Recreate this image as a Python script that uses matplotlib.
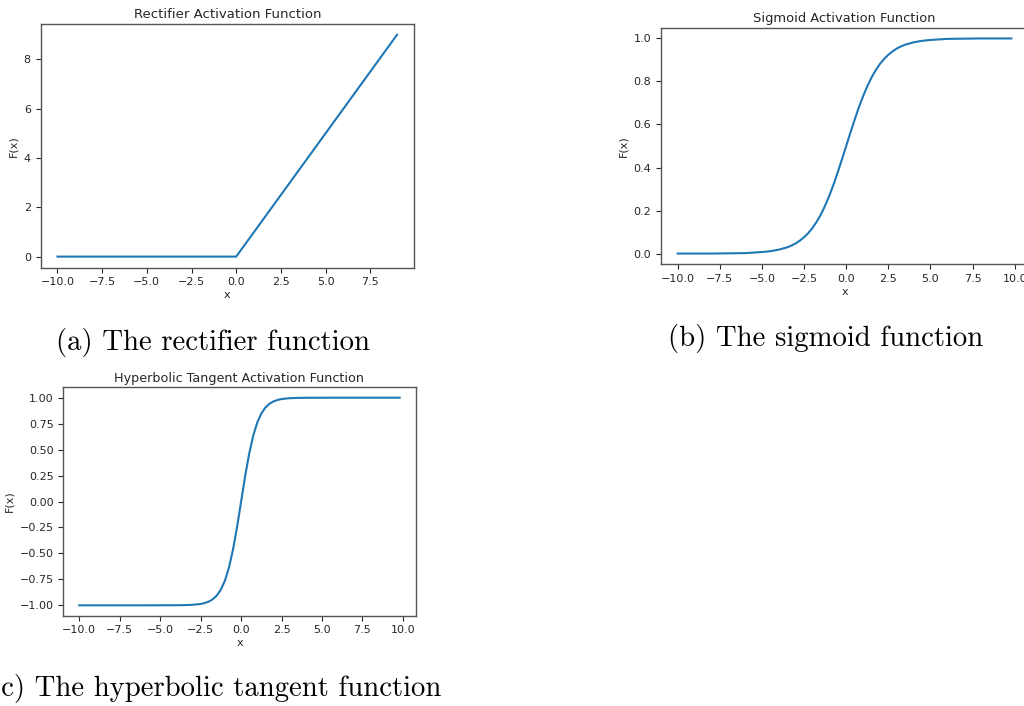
import matplotlib
matplotlib.use("Agg")
import matplotlib.pyplot as plt

# rectifier samples
relu_x = [-10, -9, -8, -7, -6, -5, -4, -3, -2, -1, 0, 1, 2, 3, 4, 5, 6, 7, 8, 9]
relu_y = [0, 0, 0, 0, 0, 0, 0, 0, 0, 0, 0, 1, 2, 3, 4, 5, 6, 7, 8, 9]

# sigmoid samples
sig_x = [-10, -8, -7, -6, -5, -4.5, -4, -3.5, -3.25, -3, -2.75, -2.5, -2.25, -2,
         -1.75, -1.5, -1.25, -1, -0.75, -0.5, -0.25, 0, 0.25, 0.5, 0.75, 1, 1.25,
         1.5, 1.75, 2, 2.25, 2.5, 2.75, 3, 3.25, 3.5, 4, 4.5, 5, 6, 7, 8, 9.8]
sig_y = [0.000, 0.000, 0.001, 0.002, 0.007, 0.011, 0.018, 0.029, 0.037, 0.047,
         0.060, 0.076, 0.095, 0.119, 0.148, 0.182, 0.223, 0.269, 0.321, 0.378,
         0.438, 0.500, 0.562, 0.622, 0.679, 0.731, 0.777, 0.818, 0.852, 0.881,
         0.905, 0.924, 0.940, 0.953, 0.963, 0.971, 0.982, 0.989, 0.993, 0.998,
         0.999, 1.000, 1.000]

# tanh samples
tanh_x = [-10, -6, -4, -3.5, -3, -2.5, -2.25, -2, -1.75, -1.5, -1.25, -1, -0.75,
          -0.5, -0.25, 0, 0.25, 0.5, 0.75, 1, 1.25, 1.5, 1.75, 2, 2.25, 2.5, 3,
          3.5, 4, 6, 9.8]
tanh_y = [-1.000, -1.000, -0.999, -0.998, -0.995, -0.987, -0.978, -0.964, -0.941,
          -0.905, -0.848, -0.762, -0.635, -0.462, -0.245, 0.000, 0.245, 0.462,
          0.635, 0.762, 0.848, 0.905, 0.941, 0.964, 0.978, 0.987, 0.995, 0.998,
          0.999, 1.000, 1.000]

titles = ["Rectifier Activation Function", "Sigmoid Activation Function",
          "Hyperbolic Tangent Activation Function"]
captions = ["(a) The rectifier function", "(b) The sigmoid function",
            "(c) The hyperbolic tangent function"]

W, H = 1024, 706
fig = plt.figure(figsize=(W / 100, H / 100), dpi=100)


def box(l, t, r, b):
    return [l / W, 1 - b / H, (r - l) / W, (b - t) / H]


def panel(rect, xs, ys, title, tsize):
    ax = fig.add_axes(rect)
    ax.plot(xs, ys, color="#1f77b4", lw=1.5)
    ax.set_title(title, fontsize=tsize, color="#262626", pad=4)
    ax.set_xlabel("x", fontsize=8, color="#262626", labelpad=2)
    ax.set_ylabel("F(x)", fontsize=8, color="#262626", labelpad=4)
    ax.tick_params(labelsize=8, colors="#262626", length=3.5, width=0.8)
    for s in ax.spines.values():
        s.set_color("#555555")
        s.set_linewidth(1.0)
    return ax


panel(box(40.5, 23.7, 414, 267.7), relu_x, relu_y, titles[0], 9.5)
panel(box(661, 27.7, 1028, 264.3), sig_x, sig_y, titles[1], 9.4)
ax3 = panel(box(63.3, 387.3, 415.7, 615.7), tanh_x, tanh_y, titles[2], 9.2)
ax3.set_yticks([-1, -0.75, -0.5, -0.25, 0, 0.25, 0.5, 0.75, 1])

cap = dict(fontsize=20.7, family="cmr10", ha="center", va="center", color="black")
fig.text(213 / W, 1 - 342 / H, captions[0], **cap)
fig.text(826 / W, 1 - 338 / H, captions[1], **cap)
fig.text(216 / W, 1 - 688 / H, captions[2], **cap)

fig.savefig("out.png", dpi=100)
